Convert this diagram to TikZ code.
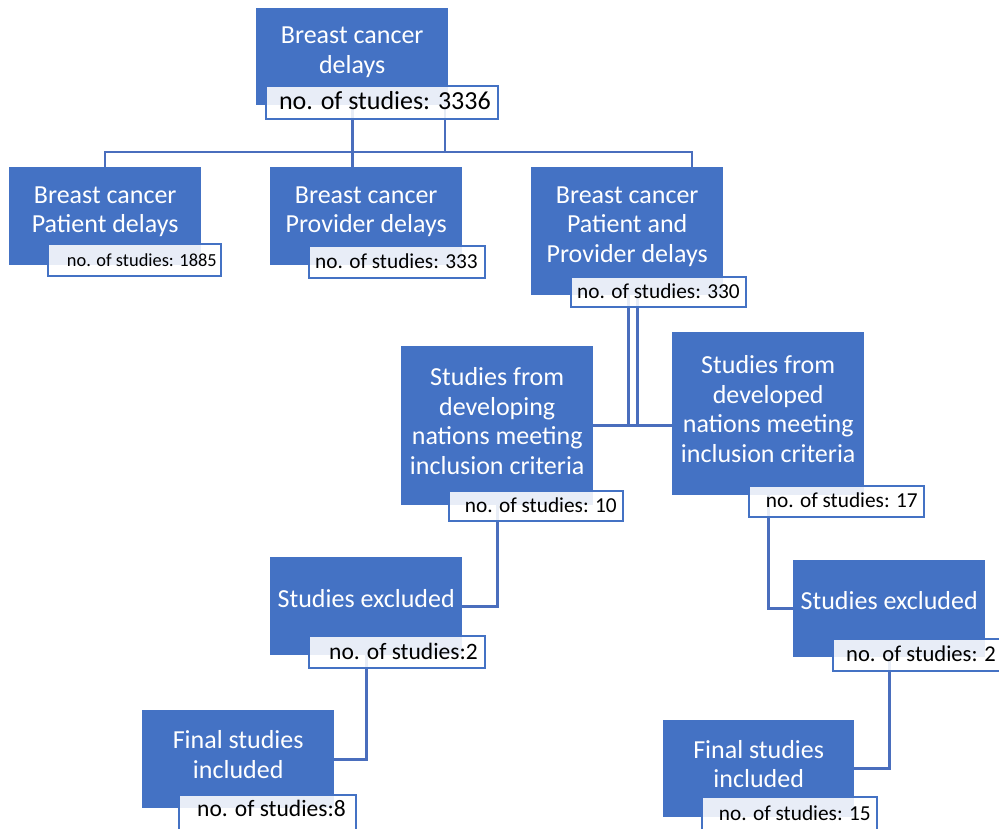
\documentclass[tikz,border=0pt]{standalone}
\usepackage{fontspec}
\setmainfont{Carlito}
\pgfdeclarelayer{background}
\pgfsetlayers{background,main}
\definecolor{boxblue}{HTML}{4472C4}
\definecolor{lineblue}{HTML}{4A6EBD}
\tikzset{
  bluebox/.style={fill=boxblue, draw=none, inner sep=0pt, anchor=north west, minimum width=192pt},
  btxt/.style={text=white, align=center, inner sep=0pt, font=\fontsize{26}{29.5}\selectfont},
  labbox/.style={draw=boxblue, line width=2.2pt, fill=white, fill opacity=0.88, text opacity=1, inner sep=0pt, anchor=north west},
  ltxt/.style={anchor=east, inner sep=0pt, text=black},
  conn/.style={draw=lineblue, line width=2.6pt}
}
\begin{document}
\begin{tikzpicture}[x=1pt,y=-1pt]
\useasboundingbox (0,0) rectangle (999,828);
\clip (0,0) rectangle (999,828);
% blue boxes
\node[bluebox, minimum height=97pt] (b0) at (256,8) {};
\node[bluebox, minimum height=98pt] (b1) at (9,167) {};
\node[bluebox, minimum height=98pt] (b2) at (270,167) {};
\node[bluebox, minimum height=128pt] (b3) at (531,167) {};
\node[bluebox, minimum height=159pt] (b4) at (401,346) {};
\node[bluebox, minimum height=163pt] (b5) at (672,332) {};
\node[bluebox, minimum height=98pt] (b6) at (270,557) {};
\node[bluebox, minimum height=97pt] (b7) at (793,560) {};
\node[bluebox, minimum height=98pt] (b8) at (142,710) {};
\node[bluebox, minimum height=97pt, minimum width=191pt] (b9) at (663,720) {};
% box texts
\node[btxt] (t0) at ([yshift=4.5pt]b0.center) {Breast cancer\\delays};
\node[btxt] (t1) at ([yshift=4.5pt]b1.center) {Breast cancer\\Patient delays};
\node[btxt] (t2) at ([yshift=4.5pt]b2.center) {Breast cancer\\Provider delays};
\node[btxt] (t3) at ([yshift=4.5pt]b3.center) {Breast cancer\\Patient and\\Provider delays};
\node[btxt] (t4) at ([yshift=4.5pt]b4.center) {Studies from\\developing\\nations meeting\\inclusion criteria};
\node[btxt] (t5) at ([yshift=4.5pt]b5.center) {Studies from\\developed\\nations meeting\\inclusion criteria};
\node[btxt] (t6) at ([yshift=8pt]b6.center) {Studies excluded};
\node[btxt] (t7) at ([yshift=8pt]b7.center) {Studies excluded};
\node[btxt] (t8) at ([yshift=4.5pt]b8.center) {Final studies\\included};
\node[btxt] (t9) at ([yshift=4.5pt]b9.center) {Final studies\\included};
% label boxes
\node[labbox, minimum width=232pt, minimum height=33pt] (l0) at (265,85) {};
\node[labbox, minimum width=173pt, minimum height=32pt] (l1) at (47,243) {};
\node[labbox, minimum width=176pt, minimum height=32pt] (l2) at (308,245) {};
\node[labbox, minimum width=175pt, minimum height=30pt] (l3) at (570,276) {};
\node[labbox, minimum width=174pt, minimum height=30pt] (l4) at (448,490) {};
\node[labbox, minimum width=175pt, minimum height=31pt] (l5) at (748,485) {};
\node[labbox, minimum width=176pt, minimum height=32pt] (l6) at (308,635) {};
\node[labbox, minimum width=185pt, minimum height=32pt] (l7) at (832,638) {};
\node[labbox, minimum width=177pt, minimum height=38pt] (l8) at (178,794) {};
\node[labbox, minimum width=175pt, minimum height=38pt] (l9) at (701,796) {};
% label texts
\node[ltxt, font=\fontsize{26}{30}\selectfont] (n0) at (491,101) {no. of studies: 3336};
\node[ltxt, font=\fontsize{18.4}{22}\selectfont] (n1) at (217,260) {no. of studies: 1885};
\node[ltxt, font=\fontsize{21.3}{25}\selectfont] (n2) at (478,261) {no. of studies: 333};
\node[ltxt, font=\fontsize{21.3}{25}\selectfont] (n3) at (740,291) {no. of studies: 330};
\node[ltxt, font=\fontsize{21.3}{25}\selectfont] (n4) at (617,505) {no. of studies: 10};
\node[ltxt, font=\fontsize{21.3}{25}\selectfont] (n5) at (918,500) {no. of studies: 17};
\node[ltxt, font=\fontsize{23.5}{27}\selectfont] (n6) at (478,651) {no. of studies:2};
\node[ltxt, anchor=west, font=\fontsize{22.6}{27}\selectfont] (n7) at (846,654) {no. of studies: 2};
\node[ltxt, font=\fontsize{23.5}{27}\selectfont] (n8) at (346,808) {no. of studies:8};
\node[ltxt, font=\fontsize{21.3}{25}\selectfont] (n9) at (871,813) {no. of studies: 15};
% connectors
\coordinate (busL) at (105,152);
\coordinate (busR) at (692,152);
\coordinate (tap) at (445,152);
\begin{pgfonlayer}{background}
\draw[conn] (b0.south) -- (b0.south |- b2.north);
\draw[conn] (tap |- b0.south) -- (tap);
\draw[conn] (busL |- b1.north) -- (busL) -- (busR) -- (busR |- b3.north);
\draw[conn] ([xshift=1pt]b3.south) -- ([xshift=1pt]b3.south |- b4.east);
\draw[conn] ([xshift=10pt]b3.south) -- ([xshift=10pt]b3.south |- b4.east);
\draw[conn] (b4.east) -- (b4.east -| b5.west);
\draw[conn] (b4.south) |- (b6.east);
\draw[conn] (b6.south) |- (b8.east);
\draw[conn] (b5.south) |- (b7.west);
\draw[conn] (b7.south) |- (b9.east);
\end{pgfonlayer}
\end{tikzpicture}
\end{document}
